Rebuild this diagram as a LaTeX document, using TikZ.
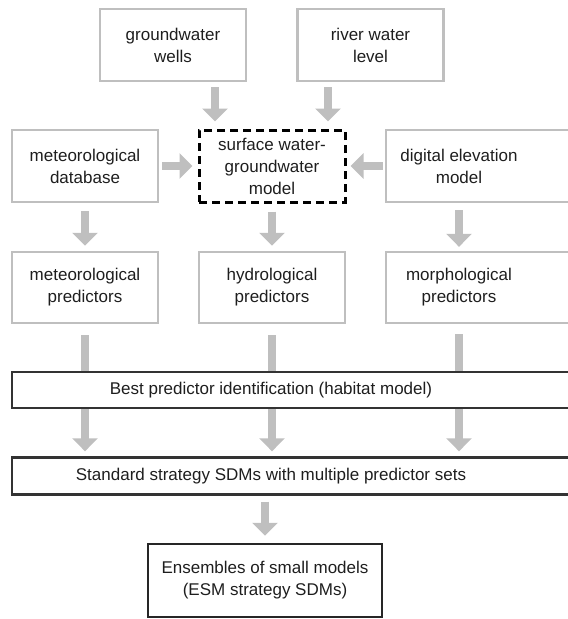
\documentclass[tikz,border=0pt]{standalone}
\usepackage{fontspec}
\setmainfont{Liberation Sans}
\usepackage{tikz}
\usetikzlibrary{arrows.meta}
\usetikzlibrary{positioning}
\usetikzlibrary{calc}
\definecolor{boxgray}{RGB}{191,191,191}
\definecolor{textgray}{RGB}{30,30,30}
\tikzset{
    graybox/.style={draw=boxgray, line width=2.5pt, minimum width=146pt, minimum height=72pt,
        align=center, text=textgray, font=\fontsize{17}{22}\selectfont, inner sep=0pt},
    modelbox/.style={graybox, draw=black, dashed, line width=3pt, dash pattern=on 8pt off 5pt},
    textbox/.style={align=center, text=textgray, font=\fontsize{17}{22}\selectfont, inner sep=0pt},
    openline/.style={draw=black!80, line width=2pt},
    bigarrow/.style={draw=boxgray, line width=8pt, -{Triangle[width=25pt,length=13pt]}},
}

\begin{document}
\begin{tikzpicture}[x=1pt, y=-1pt]
	\useasboundingbox (0,0) rectangle (568,619);
	\clip (0,0) rectangle (568,619);
	% inputs
	\node[graybox] (wells) at (173,45) {groundwater\\wells};
	\node[graybox] (river) at (370.5,45) {river water\\level};
	\node[graybox] (metdb) at (85,166) {meteorological\\database};
	\node[modelbox] (swgw) at (272,166) {surface water-\\groundwater\\model};
	\node[textbox, minimum width=146pt, minimum height=72pt] (dem) at (459,166) {digital elevation\\model};
	\draw[draw=boxgray, line width=2.5pt] ($(dem.north east)+(60,0)$) -- (dem.north west) -- (dem.south west) -- ++(220,0);
	% predictors
	\node[graybox, minimum height=71pt] (metpred) at (85,287.5) {meteorological\\predictors};
	\node[graybox, minimum height=71pt] (hydpred) at (272,287.5) {hydrological\\predictors};
	\node[textbox, minimum width=146pt, minimum height=71pt] (morpred) at (459,287.5) {morphological\\predictors};
	\draw[draw=boxgray, line width=2.5pt] ($(morpred.north east)+(60,0)$) -- (morpred.north west) -- (morpred.south west) -- ++(220,0);
	% model boxes
	\node[textbox, minimum width=518pt, minimum height=37pt] (std) at (271,476) {Standard strategy SDMs with multiple predictor sets};
	\draw[openline, line width=2.5pt] ($(std.north east)+(60,0)$) -- (std.north west) -- (std.south west) -- ++(580,0);
	\node[graybox, draw=black!85, line width=2.5pt, minimum width=234pt, minimum height=73pt] (esm) at (265,580.5) {Ensembles of small models\\(ESM strategy SDMs)};
	% arrows
	\draw[bigarrow, shorten <=5pt, shorten >=7pt] ([xshift=42pt]wells.south) -- ([xshift=-57pt]swgw.north);
	\draw[bigarrow, shorten <=5pt, shorten >=7pt] ([xshift=-42.5pt]river.south) -- ([xshift=56pt]swgw.north);
	\draw[bigarrow, shorten <=3pt, shorten >=5pt] (metdb) -- (swgw);
	\draw[bigarrow, shorten <=3pt, shorten >=4pt] (dem.west) -- (swgw.east);
	\draw[bigarrow, shorten <=8pt, shorten >=5pt] (metdb) -- (metpred);
	\draw[bigarrow, shorten <=8pt, shorten >=5pt] (swgw) -- (hydpred);
	\draw[bigarrow, shorten <=8pt, shorten >=5pt] (dem) -- (morpred);
	\draw[bigarrow, shorten <=11pt, shorten >=6pt] (metpred.south) -- (metpred.south |- std.north);
	\draw[bigarrow, shorten <=11pt, shorten >=6pt] (hydpred.south) -- (hydpred.south |- std.north);
	\draw[bigarrow, shorten <=11pt, shorten >=6pt] (morpred.south) -- (morpred.south |- std.north);
	\draw[bigarrow, shorten <=7pt, shorten >=7pt] (std.south -| esm.north) -- (esm.north);
	% drawn over the arrows
	\node[textbox, fill=white, minimum width=518pt, minimum height=35pt] (best) at (271,390) {Best predictor identification (habitat model)};
	\draw[openline] ($(best.north east)+(60,0)$) -- (best.north west) -- (best.south west) -- ++(580,0);
\end{tikzpicture}
\end{document}
